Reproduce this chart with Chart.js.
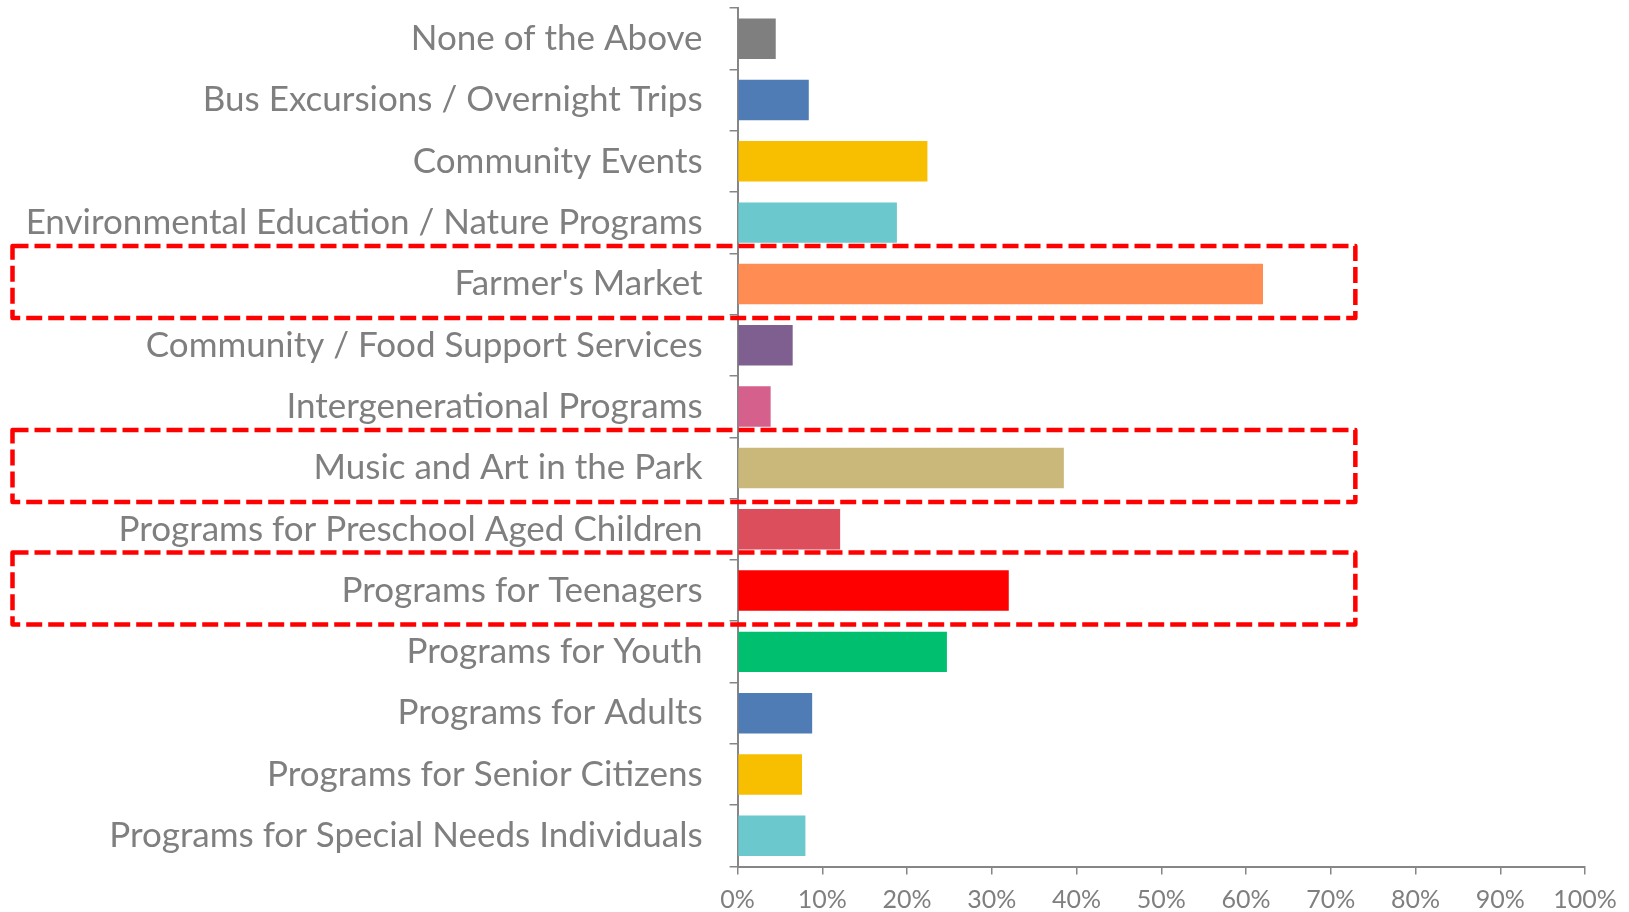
<!DOCTYPE html>
<html>
<head>
<meta charset="utf-8">
<script src="https://cdn.jsdelivr.net/npm/chart.js@4.4.1/dist/chart.umd.min.js"></script>
<style>
    html, body { margin: 0; padding: 0; background: #fff; }
    #wrap { width: 1629px; height: 912px; }
</style>
</head>
<body>
<div id="wrap"><canvas id="barChart"></canvas></div>
<script>
/* ===== DATA ===== */
const categories = [
    'None of the Above',
    'Bus Excursions / Overnight Trips',
    'Community Events',
    'Environmental Education / Nature Programs',
    "Farmer's Market",
    'Community / Food Support Services',
    'Intergenerational Programs',
    'Music and Art in the Park',
    'Programs for Preschool Aged Children',
    'Programs for Teenagers',
    'Programs for Youth',
    'Programs for Adults',
    'Programs for Senior Citizens',
    'Programs for Special Needs Individuals'
];
const percentValues = [4.5, 8.4, 22.4, 18.8, 62.0, 6.5, 3.9, 38.5, 12.1, 32.0, 24.7, 8.8, 7.6, 8.0];
const barColors = [
    '#7F7F7F', '#4F7CB5', '#F8BE00', '#6BC8CC', '#FF8C52', '#7F5F8F', '#D6608C',
    '#C9B87A', '#DC4E5C', '#FF0000', '#00BF6F', '#4F7CB5', '#F8BE00', '#6BC8CC'
];
const xTicks = [0, 10, 20, 30, 40, 50, 60, 70, 80, 90, 100];
const highlighted = ["Farmer's Market", 'Music and Art in the Park', 'Programs for Teenagers'];
const highlightRight = 72.9;

const axisGray = '#868686';
const textGray = '#7F7F7F';

/* ===== HIGHLIGHT BOXES ===== */
const highlightBoxes = {
    id: 'highlightBoxes',
    afterDatasetsDraw(chart) {
        const ctx = chart.ctx;
        const x = chart.scales.x;
        const y = chart.scales.y;
        ctx.save();
        ctx.strokeStyle = '#FF0000';
        ctx.lineWidth = 4.5;
        ctx.setLineDash([16, 6]);
        ctx.lineJoin = 'round';
        highlighted.forEach(name => {
            const cy = y.getPixelForValue(categories.indexOf(name));
            const left = 12.5;
            const right = x.getPixelForValue(highlightRight);
            ctx.strokeRect(left, cy - 38, right - left, 72);
        });
        ctx.restore();
    }
};

/* ===== CHART ===== */
const ctx = document.getElementById('barChart').getContext('2d');
new Chart(ctx, {
    type: 'bar',
    data: {
        labels: categories,
        datasets: [{
            data: percentValues,
            backgroundColor: barColors,
            borderWidth: 0,
            categoryPercentage: 1,
            barPercentage: 0.66
        }]
    },
    options: {
        indexAxis: 'y',
        responsive: true,
        maintainAspectRatio: false,
        animation: false,
        layout: { padding: { top: 8, right: 44, left: 0, bottom: 0 } },
        plugins: {
            legend: { display: false },
            tooltip: { enabled: false }
        },
        scales: {
            y: {
                offset: true,
                grid: {
                    offset: true,
                    drawOnChartArea: false,
                    drawTicks: true,
                    tickLength: 8,
                    color: axisGray,
                    lineWidth: 1.5
                },
                border: { display: true, color: axisGray, width: 2 },
                ticks: {
                    color: textGray,
                    padding: 27,
                    font: { family: 'Lato', size: 35 }
                },
                afterFit: function(scale) {
                    scale.width = 737.6;
                    scale.paddingTop = 0;
                    scale.paddingBottom = 0;
                }
            },
            x: {
                min: 0,
                max: 100,
                afterBuildTicks: function(scale) {
                    scale.ticks = xTicks.map(v => ({ value: v }));
                },
                grid: {
                    drawOnChartArea: false,
                    drawTicks: true,
                    tickLength: 8,
                    color: axisGray,
                    lineWidth: 1.5
                },
                border: { display: true, color: axisGray, width: 2 },
                ticks: {
                    color: textGray,
                    padding: 10,
                    maxRotation: 0,
                    font: { family: 'Lato', size: 25 },
                    callback: function(value) { return value + '%'; }
                },
                afterFit: function(scale) {
                    scale.height = 45.5;
                    scale.paddingLeft = 0;
                    scale.paddingRight = 0;
                }
            }
        }
    },
    plugins: [highlightBoxes]
});
</script>
</body>
</html>
